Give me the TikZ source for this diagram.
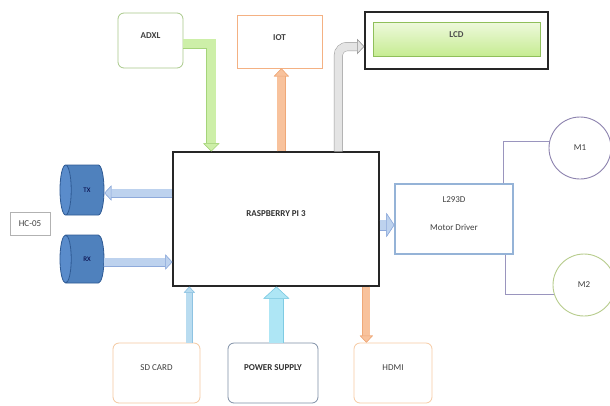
\documentclass[tikz,border=0pt]{standalone}
\usepackage{fontspec}
\setmainfont{Carlito}
\usetikzlibrary{shapes.geometric,arrows.meta}
\definecolor{adxlc}{HTML}{A9C98A}
\definecolor{iotc}{HTML}{F4B183}
\definecolor{lcdb}{HTML}{8FBF5A}
\definecolor{lcdt}{HTML}{EEF9DC}
\definecolor{lcdbot}{HTML}{C6EC92}
\definecolor{cylf}{HTML}{4F81BD}
\definecolor{cylf2}{HTML}{5A8CCB}
\definecolor{cylb}{HTML}{2E5A94}
\definecolor{l293c}{HTML}{95B3D7}
\definecolor{m1c}{HTML}{8C82AE}
\definecolor{m2c}{HTML}{B7CC8C}
\definecolor{wirec}{HTML}{9A95BE}
\definecolor{sdc}{HTML}{F4C8A0}
\definecolor{psc}{HTML}{7F8FA6}
\definecolor{hdmic}{HTML}{F7CBA4}
\definecolor{grnf}{HTML}{CDEFA8}
\definecolor{grnb}{HTML}{A5D47A}
\definecolor{orf}{HTML}{F8C29C}
\definecolor{orb}{HTML}{EFA878}
\definecolor{gyf}{HTML}{E4E4E4}
\definecolor{gyb}{HTML}{9A9A9A}
\definecolor{bluf}{HTML}{BDD2EE}
\definecolor{blub}{HTML}{8EAADB}
\definecolor{sdf}{HTML}{B9DCF0}
\definecolor{sdb}{HTML}{8EC3E2}
\definecolor{psf}{HTML}{AEE6F5}
\definecolor{psb}{HTML}{7FCBE3}
\definecolor{txtc}{HTML}{404040}
\tikzset{
  barrow/.style n args={5}{line width=#3, draw=#1,
    -{Triangle[length=#5,width=#4,fill=#1,color=#2,line width=0.5pt]},
    preaction={draw=#2, line width=#3+1pt,
      -{Triangle[length=#5,width=#4,fill=#1,color=#2,line width=0.5pt]}}},
  box/.style={fill=white, line width=0.8pt, inner sep=0pt},
  rbox/.style={box, rounded corners=6pt},
  small/.style={font=\fontsize{9}{10}\selectfont, text=txtc},
  cyl/.style={cylinder, shape border rotate=180, aspect=2.5, draw=cylb, line width=0.8pt,
    cylinder uses custom fill, cylinder body fill=cylf, cylinder end fill=cylf2,
    inner sep=0pt, font=\fontsize{7}{8}\selectfont, text=blue!25!black},
  wire/.style={draw=wirec, line width=0.7pt},
}
\begin{document}
\begin{tikzpicture}[x=1pt,y=-1pt]
\useasboundingbox[fill=white] (0,0) rectangle (610,405);

% top boxes
\node[rbox, draw=adxlc, minimum width=65pt, minimum height=55pt,
  label={[small, yshift=5pt]center:\textbf{ADXL}}] (adxl) at (150.5,40.5) {};
\node[box, draw=iotc, minimum width=85pt, minimum height=53pt,
  label={[small, yshift=4pt]center:\textbf{IOT}}] (iot) at (279.5,41.5) {};
\node[box, draw=black!85, line width=1.6pt, minimum width=183pt, minimum height=57pt] (lcd) at (456.5,40.5) {};
\node[draw=lcdb, line width=0.6pt, top color=lcdt, bottom color=lcdbot,
  minimum width=167pt, minimum height=34pt, inner sep=0pt,
  label={[small, text=black!70, yshift=4pt]center:\textbf{LCD}}] (lcdin) at (456.5,39) {};

% main board
\node[box, draw=black!85, line width=1.3pt, minimum width=206pt, minimum height=134pt,
  label={[small, text=black!80, yshift=5pt]center:\textbf{RASPBERRY PI 3}}] (pi) at (276,219) {};

% bluetooth
\node[cyl, minimum width=50pt, minimum height=44pt] (tx) at (85,190) {\hspace{4pt}TX};
\node[cyl, minimum width=48pt, minimum height=44pt] (rx) at (85,259) {\hspace{4pt}RX};
\node[box, draw=gray!60, line width=0.6pt, minimum width=40pt, minimum height=23pt,
  small] (hc) at (30,223.5) {HC-05};

% motor driver and motors
\node[box, draw=l293c, line width=1.2pt, minimum width=118pt, minimum height=70pt,
  label={[small, align=center, yshift=5pt]center:L293D\\[18pt]Motor Driver}] (drv) at (454,219) {};
\node[circle, draw=m1c, line width=0.9pt, minimum size=62pt, inner sep=0pt, small] (m1) at (580,148) {M1};
\node[circle, draw=m2c, line width=0.9pt, minimum size=62pt, inner sep=0pt, small] (m2) at (584,285) {M2};

% bottom boxes
\node[rbox, draw=sdc, minimum width=87pt, minimum height=60pt,
  label={[small, yshift=5pt]center:SD CARD}] (sd) at (156.5,373) {};
\node[rbox, draw=psc, minimum width=90pt, minimum height=60pt,
  label={[small, text=black!80, yshift=5pt]center:\textbf{POWER SUPPLY}}] (ps) at (273,373) {};
\node[rbox, draw=hdmic, minimum width=78pt, minimum height=60pt,
  label={[small, yshift=5pt]center:HDMI}] (hdmi) at (393,373) {};

% coordinates on the board edges
\coordinate (pAd) at ([xshift=39pt]pi.north west);
\coordinate (pIo) at ([xshift=109pt]pi.north west);
\coordinate (pLc) at ([xshift=166pt]pi.north west);
\coordinate (pTx) at ([yshift=26pt]pi.west);
\coordinate (pRx) at ([yshift=-43pt]pi.west);
\coordinate (pDr) at ([yshift=-6pt]pi.east);
\coordinate (pSd) at ([xshift=17pt]pi.south west);
\coordinate (pPs) at ([xshift=104pt]pi.south west);
\coordinate (pHd) at ([xshift=194pt]pi.south west);

% arrows
\draw[barrow={grnf}{grnb}{9pt}{16pt}{8pt}] ([yshift=-3pt]adxl.east) -| (pAd);
\draw[barrow={orf}{orb}{8pt}{15pt}{8pt}] (pIo) -- (pIo |- iot.south);
\draw[barrow={gyf}{gyb}{8pt}{15pt}{7pt}, rounded corners=9pt] (pLc) |- ([yshift=-6pt]lcd.west);
\draw[barrow={bluf}{blub}{8pt}{15pt}{7pt}] (pTx) -- (pTx -| tx.east);
\draw[barrow={bluf}{blub}{8pt}{15pt}{7pt}] (pRx -| rx.east) -- (pRx);
\draw[barrow={bluf}{blub}{10pt}{24pt}{8pt}] (pDr) -- (pDr -| drv.west);
\draw[barrow={sdf}{sdb}{6pt}{11pt}{6pt}] (pSd |- sd.north) -- (pSd);
\draw[barrow={psf}{psb}{14pt}{26pt}{12pt}] (pPs |- ps.north) -- (pPs);
\draw[barrow={orf}{orb}{7pt}{13pt}{7pt}] (pHd) -- (pHd |- hdmi.north);

% motor wires
\draw[wire] ([xshift=-10pt]drv.north east) |- (m1.168);
\draw[wire] ([xshift=-8pt]drv.south east) |- (m2.197);
\end{tikzpicture}
\end{document}
